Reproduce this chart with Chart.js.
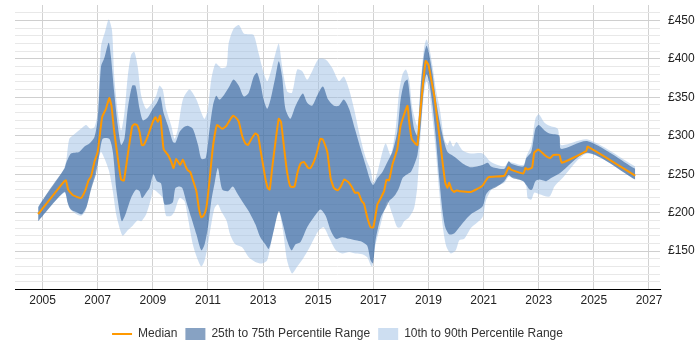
<!DOCTYPE html>
<html>
<head>
<meta charset="utf-8">
<script src="https://cdn.jsdelivr.net/npm/chart.js@4.4.0/dist/chart.umd.min.js"></script>
<style>
  body { margin: 0; background: #fff; }
  #wrap { width: 700px; height: 350px; }
</style>
</head>
<body>
<div id="wrap"><canvas id="payChart"></canvas></div>
<script>
// median daily rate
const medianYears = [2004.84, 2005.79, 2005.85, 2005.93, 2006.09, 2006.39, 2006.55, 2006.67, 2006.76, 2006.88, 2007.0, 2007.16, 2007.3, 2007.42, 2007.5, 2007.6, 2007.73, 2007.85, 2007.95, 2008.09, 2008.25, 2008.33, 2008.43, 2008.52, 2008.6, 2008.67, 2008.82, 2009.0, 2009.1, 2009.18, 2009.27, 2009.39, 2009.55, 2009.67, 2009.75, 2009.85, 2009.99, 2010.09, 2010.19, 2010.27, 2010.36, 2010.45, 2010.58, 2010.67, 2010.76, 2010.84, 2010.94, 2011.04, 2011.16, 2011.24, 2011.33, 2011.52, 2011.67, 2011.79, 2011.91, 2012.03, 2012.12, 2012.24, 2012.36, 2012.45, 2012.58, 2012.72, 2012.82, 2012.9, 2013.0, 2013.08, 2013.17, 2013.24, 2013.33, 2013.45, 2013.57, 2013.65, 2013.75, 2013.87, 2013.99, 2014.14, 2014.24, 2014.36, 2014.48, 2014.64, 2014.72, 2014.84, 2014.96, 2015.08, 2015.17, 2015.33, 2015.45, 2015.57, 2015.7, 2015.82, 2015.94, 2016.09, 2016.21, 2016.33, 2016.45, 2016.58, 2016.66, 2016.78, 2016.9, 2017.0, 2017.15, 2017.27, 2017.39, 2017.48, 2017.57, 2017.69, 2017.87, 2017.99, 2018.12, 2018.24, 2018.3, 2018.39, 2018.52, 2018.6, 2018.68, 2018.78, 2018.9, 2019.0, 2019.08, 2019.21, 2019.33, 2019.41, 2019.51, 2019.61, 2019.69, 2019.75, 2019.84, 2019.93, 2020.02, 2020.12, 2020.54, 2020.96, 2021.17, 2021.75, 2021.91, 2021.99, 2022.44, 2022.52, 2022.6, 2022.76, 2022.84, 2022.99, 2023.21, 2023.41, 2023.53, 2023.75, 2023.84, 2024.72, 2024.78, 2026.5];
const medianRates = [198, 241, 242, 230, 223, 219, 229, 242, 247, 266, 279, 324, 335, 349, 339, 305, 271, 243, 242, 275, 312, 315, 314, 305, 288, 288, 300, 318, 324, 318, 326, 283, 275, 266, 258, 270, 262, 269, 260, 255, 253, 243, 228, 206, 194, 196, 206, 236, 279, 300, 314, 309, 313, 320, 326, 323, 318, 300, 290, 288, 296, 303, 300, 283, 262, 245, 232, 230, 258, 292, 322, 318, 288, 253, 234, 234, 251, 264, 266, 258, 258, 266, 279, 296, 295, 279, 245, 232, 229, 234, 243, 240, 234, 226, 226, 215, 212, 194, 181, 181, 211, 219, 228, 243, 242, 262, 283, 313, 328, 339, 318, 296, 290, 288, 322, 360, 397, 392, 377, 352, 318, 296, 266, 239, 232, 239, 230, 227, 229, 228, 227, 235, 246, 248, 259, 256, 251, 258, 256, 259, 278, 282, 275, 271, 275, 275, 265, 280, 286, 248];

// 25th to 75th percentile
const p75Years = [2004.84, 2005.24, 2005.79, 2005.85, 2006.03, 2006.33, 2006.52, 2006.7, 2006.88, 2007.0, 2007.12, 2007.24, 2007.4, 2007.48, 2007.6, 2007.73, 2007.85, 2007.97, 2008.09, 2008.25, 2008.37, 2008.52, 2008.64, 2008.82, 2009.0, 2009.15, 2009.27, 2009.39, 2009.55, 2009.73, 2009.82, 2009.97, 2010.12, 2010.27, 2010.45, 2010.64, 2010.76, 2010.92, 2011.06, 2011.18, 2011.3, 2011.42, 2011.6, 2011.79, 2011.93, 2012.12, 2012.3, 2012.48, 2012.66, 2012.78, 2012.9, 2013.02, 2013.15, 2013.27, 2013.45, 2013.57, 2013.69, 2013.81, 2013.99, 2014.18, 2014.44, 2014.6, 2014.78, 2014.96, 2015.17, 2015.36, 2015.57, 2015.75, 2015.93, 2016.12, 2016.33, 2016.54, 2016.72, 2016.9, 2017.0, 2017.15, 2017.33, 2017.51, 2017.69, 2017.87, 2017.99, 2018.12, 2018.24, 2018.36, 2018.48, 2018.6, 2018.72, 2018.84, 2018.93, 2019.02, 2019.15, 2019.27, 2019.41, 2019.57, 2019.69, 2019.85, 2020.0, 2020.24, 2020.54, 2020.96, 2021.15, 2021.27, 2021.45, 2021.75, 2021.91, 2021.99, 2022.44, 2022.55, 2022.73, 2022.88, 2023.0, 2023.21, 2023.39, 2023.75, 2023.81, 2024.78, 2026.5];
const p75Rates = [207, 229, 257, 264, 277, 279, 286, 290, 298, 322, 390, 401, 421, 403, 356, 313, 288, 296, 335, 365, 365, 335, 320, 324, 335, 343, 351, 330, 313, 292, 291, 305, 311, 313, 309, 288, 270, 271, 309, 339, 352, 347, 354, 365, 373, 365, 351, 356, 377, 382, 369, 347, 335, 347, 377, 397, 377, 335, 322, 339, 355, 343, 339, 352, 364, 347, 339, 339, 347, 335, 309, 283, 262, 241, 236, 245, 253, 266, 279, 305, 347, 369, 373, 339, 309, 300, 365, 405, 417, 407, 380, 347, 318, 292, 279, 275, 271, 264, 259, 262, 265, 260, 258, 257, 267, 264, 260, 271, 279, 309, 314, 307, 303, 300, 283, 293, 257];
const p25Years = [2004.84, 2005.79, 2005.91, 2006.03, 2006.27, 2006.43, 2006.6, 2006.76, 2006.94, 2007.06, 2007.18, 2007.42, 2007.55, 2007.67, 2007.79, 2007.88, 2008.03, 2008.21, 2008.39, 2008.52, 2008.61, 2008.76, 2008.88, 2009.02, 2009.15, 2009.3, 2009.42, 2009.61, 2009.73, 2009.82, 2009.97, 2010.07, 2010.21, 2010.39, 2010.58, 2010.76, 2010.88, 2011.0, 2011.12, 2011.24, 2011.36, 2011.52, 2011.73, 2011.9, 2012.05, 2012.24, 2012.48, 2012.72, 2012.9, 2013.08, 2013.21, 2013.39, 2013.57, 2013.72, 2013.87, 2014.03, 2014.18, 2014.36, 2014.6, 2014.84, 2015.08, 2015.27, 2015.45, 2015.64, 2015.87, 2016.12, 2016.36, 2016.6, 2016.78, 2016.9, 2016.99, 2017.08, 2017.27, 2017.45, 2017.57, 2017.69, 2017.81, 2017.93, 2018.06, 2018.18, 2018.36, 2018.48, 2018.6, 2018.72, 2018.84, 2018.93, 2019.02, 2019.15, 2019.27, 2019.39, 2019.51, 2019.61, 2019.75, 2019.93, 2020.12, 2020.3, 2020.54, 2020.96, 2021.08, 2021.21, 2021.45, 2021.75, 2021.91, 2022.05, 2022.44, 2022.55, 2022.67, 2022.76, 2022.88, 2023.02, 2023.27, 2023.45, 2023.75, 2024.78, 2026.5];
const p25Rates = [189, 227, 213, 204, 200, 198, 208, 230, 251, 275, 296, 296, 279, 232, 202, 189, 200, 219, 230, 228, 219, 226, 232, 250, 241, 238, 211, 211, 214, 232, 234, 232, 215, 194, 172, 151, 159, 181, 215, 238, 258, 230, 228, 234, 226, 215, 202, 185, 168, 159, 153, 177, 202, 185, 164, 151, 159, 162, 181, 194, 204, 196, 177, 166, 168, 166, 164, 162, 157, 138, 134, 164, 194, 206, 215, 219, 224, 232, 245, 249, 253, 262, 275, 313, 365, 380, 371, 339, 296, 245, 202, 181, 172, 173, 181, 189, 198, 208, 223, 229, 233, 241, 249, 245, 241, 236, 230, 230, 241, 243, 241, 245, 251, 278, 243];

// 10th to 90th percentile
const p90Years = [2004.84, 2005.79, 2005.97, 2006.15, 2006.39, 2006.58, 2006.73, 2006.88, 2007.0, 2007.12, 2007.28, 2007.4, 2007.52, 2007.6, 2007.73, 2007.85, 2007.97, 2008.09, 2008.21, 2008.33, 2008.45, 2008.58, 2008.76, 2008.94, 2009.12, 2009.24, 2009.36, 2009.48, 2009.67, 2009.79, 2009.91, 2010.09, 2010.33, 2010.58, 2010.76, 2010.88, 2011.0, 2011.12, 2011.28, 2011.48, 2011.67, 2011.75, 2011.93, 2012.12, 2012.3, 2012.48, 2012.66, 2012.84, 2013.02, 2013.15, 2013.27, 2013.45, 2013.57, 2013.69, 2013.87, 2014.05, 2014.24, 2014.42, 2014.6, 2014.78, 2015.02, 2015.27, 2015.51, 2015.75, 2015.93, 2016.12, 2016.3, 2016.48, 2016.66, 2016.78, 2016.9, 2017.0, 2017.15, 2017.33, 2017.45, 2017.63, 2017.81, 2017.93, 2018.06, 2018.18, 2018.3, 2018.42, 2018.6, 2018.72, 2018.84, 2018.93, 2019.02, 2019.15, 2019.27, 2019.41, 2019.57, 2019.69, 2019.78, 2019.9, 2020.02, 2020.24, 2020.54, 2020.96, 2021.27, 2021.75, 2021.91, 2022.44, 2022.55, 2022.73, 2022.88, 2023.0, 2023.21, 2023.39, 2023.69, 2023.81, 2024.78, 2026.5];
const p90Rates = [208, 258, 296, 302, 309, 314, 309, 311, 330, 416, 437, 451, 437, 377, 330, 307, 330, 377, 405, 409, 390, 352, 335, 341, 352, 365, 360, 335, 313, 296, 309, 347, 360, 347, 330, 322, 335, 373, 394, 388, 390, 420, 439, 444, 433, 432, 431, 407, 382, 371, 382, 407, 420, 390, 358, 356, 386, 384, 373, 384, 400, 399, 388, 371, 377, 360, 335, 305, 279, 266, 256, 239, 253, 279, 290, 275, 309, 356, 380, 386, 373, 335, 313, 369, 414, 425, 416, 390, 360, 335, 296, 288, 294, 286, 292, 281, 277, 277, 266, 260, 266, 262, 273, 288, 322, 328, 317, 313, 309, 288, 295, 260];
const p10Years = [2004.84, 2005.79, 2005.97, 2006.15, 2006.39, 2006.55, 2006.73, 2006.88, 2007.0, 2007.12, 2007.24, 2007.42, 2007.55, 2007.67, 2007.82, 2007.91, 2008.09, 2008.27, 2008.45, 2008.58, 2008.76, 2008.94, 2009.02, 2009.18, 2009.36, 2009.48, 2009.67, 2009.79, 2009.97, 2010.15, 2010.27, 2010.45, 2010.64, 2010.76, 2010.88, 2011.0, 2011.12, 2011.24, 2011.36, 2011.48, 2011.67, 2011.8, 2011.99, 2012.24, 2012.48, 2012.72, 2012.96, 2013.15, 2013.33, 2013.57, 2013.72, 2013.87, 2014.05, 2014.24, 2014.48, 2014.72, 2015.02, 2015.2, 2015.39, 2015.64, 2015.87, 2016.12, 2016.36, 2016.6, 2016.78, 2016.9, 2016.96, 2017.06, 2017.21, 2017.39, 2017.51, 2017.69, 2017.87, 2017.99, 2018.12, 2018.3, 2018.48, 2018.6, 2018.72, 2018.84, 2018.93, 2019.02, 2019.15, 2019.27, 2019.39, 2019.51, 2019.64, 2019.81, 2019.99, 2020.12, 2020.3, 2020.54, 2020.96, 2021.08, 2021.33, 2021.75, 2021.93, 2022.44, 2022.55, 2022.6, 2022.73, 2022.84, 2023.02, 2023.39, 2023.57, 2023.81, 2024.78, 2026.5];
const p10Rates = [189, 226, 206, 200, 196, 202, 228, 249, 268, 279, 271, 253, 228, 198, 177, 170, 177, 183, 190, 189, 198, 219, 230, 226, 219, 196, 196, 202, 219, 215, 194, 159, 138, 130, 138, 159, 185, 206, 211, 202, 190, 172, 159, 155, 142, 136, 134, 138, 168, 202, 177, 138, 121, 130, 142, 157, 177, 181, 168, 151, 147, 149, 147, 146, 142, 132, 130, 155, 177, 202, 215, 198, 181, 181, 189, 194, 206, 236, 305, 356, 371, 360, 322, 279, 228, 185, 157, 147, 151, 164, 166, 180, 194, 215, 232, 239, 247, 241, 234, 219, 217, 226, 224, 221, 234, 243, 277, 243];

const yearTicks = [2005, 2007, 2009, 2011, 2013, 2015, 2017, 2019, 2021, 2023, 2025, 2027];

function points(xs, ys) {
  return xs.map((x, i) => ({ x: x, y: ys[i] }));
}

const ctx = document.getElementById('payChart');

const band = {
  pointRadius: 0,
  pointHoverRadius: 0,
  borderWidth: 0,
  borderColor: 'rgba(0,0,0,0)',
  tension: 0.25,
  pointStyle: 'rect'
};

const tickFont = { family: 'Liberation Sans, Arial', size: 12 };

new Chart(ctx, {
  type: 'line',
  data: {
    datasets: [
      {
        label: 'Median',
        data: points(medianYears, medianRates),
        borderColor: '#ff9900',
        backgroundColor: '#ff9900',
        borderWidth: 2,
        pointRadius: 0,
        tension: 0.15,
        pointStyle: 'line',
        fill: false
      },
      Object.assign({}, band, {
        label: '25th to 75th Percentile Range',
        data: points(p75Years, p75Rates),
        backgroundColor: 'rgba(15,70,136,0.5)',
        fill: 2
      }),
      Object.assign({}, band, {
        label: 'p25',
        data: points(p25Years, p25Rates),
        backgroundColor: 'rgba(0,0,0,0)',
        fill: false
      }),
      Object.assign({}, band, {
        label: '10th to 90th Percentile Range',
        data: points(p90Years, p90Rates),
        backgroundColor: 'rgba(155,190,228,0.5)',
        fill: 4
      }),
      Object.assign({}, band, {
        label: 'p10',
        data: points(p10Years, p10Rates),
        backgroundColor: 'rgba(0,0,0,0)',
        fill: false
      })
    ]
  },
  options: {
    responsive: true,
    maintainAspectRatio: false,
    animation: false,
    layout: {
      padding: { left: 15, right: 0, top: 5, bottom: 0 }
    },
    plugins: {
      tooltip: { enabled: false },
      legend: {
        position: 'bottom',
        fullSize: false,
        labels: {
          usePointStyle: true,
          pointStyleWidth: 20,
          boxHeight: 12,
          padding: 8,
          color: '#333',
          font: tickFont,
          filter: item => [0, 1, 3].includes(item.datasetIndex)
        }
      }
    },
    scales: {
      x: {
        type: 'linear',
        min: 2004,
        max: 2027.4,
        afterBuildTicks: scale => {
          scale.ticks = yearTicks.map(v => ({ value: v }));
        },
        afterFit: scale => {
          scale.height += 8;
        },
        ticks: {
          autoSkip: false,
          maxRotation: 0,
          padding: 4,
          color: '#222',
          font: tickFont,
          callback: v => String(v)
        },
        grid: {
          color: '#d2d2d2',
          drawTicks: false
        },
        border: { color: '#000', width: 1 }
      },
      y: {
        position: 'right',
        min: 100,
        max: 470,
        afterFit: scale => {
          scale.width = 40;
        },
        ticks: {
          stepSize: 10,
          autoSkip: false,
          padding: 0,
          color: '#222',
          font: c => ({ family: 'Liberation Sans, Arial', size: (c.tick && c.tick.value >= 470) ? 1 : 12 }),
          callback: v => (v % 50 === 0 && v >= 150 && v <= 450) ? '£' + v : ''
        },
        grid: {
          drawTicks: true,
          tickLength: 8,
          tickColor: 'rgba(0,0,0,0)',
          color: c => {
            if (c.tick.value >= 470) return 'rgba(0,0,0,0)';
            return c.tick.value % 50 === 0 ? '#cfcfcf' : '#e8e8e8';
          }
        },
        border: { display: false }
      }
    }
  }
});
</script>
</body>
</html>
